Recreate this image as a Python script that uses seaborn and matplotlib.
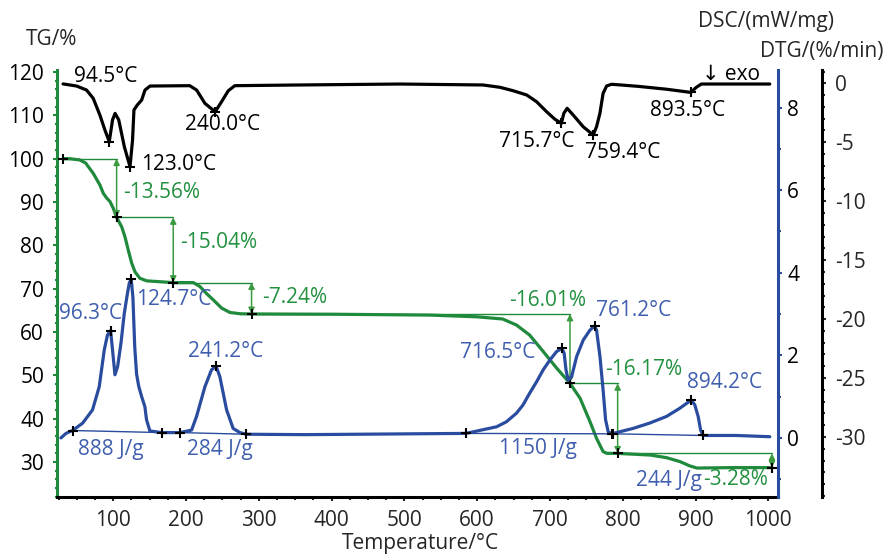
import matplotlib
matplotlib.use("Agg")
import matplotlib.pyplot as plt
import seaborn as sns
from matplotlib.ticker import MultipleLocator

# ---- TG (mass %) ----
tg_temp = [31, 40, 54, 62, 72.5, 81.7, 86.3, 91, 95.5, 100, 104.6, 111.5, 116, 120.6, 125.3,
           129.8, 136.5, 145.9, 164, 182.4, 210, 219, 228, 237.4, 249, 260.3, 275, 290,
           400, 535, 600, 635, 654, 672, 690.7, 709, 727.5, 741.4, 755, 764, 773, 778,
           793, 838, 860, 878.5, 892, 902, 950, 1005]
tg_mass = [100.0, 100.0, 99.7, 99.0, 96.6, 93.9, 92.0, 90.9, 90.1, 88.55, 86.44, 84.3, 82.0, 78.9, 75.9,
           73.9, 72.4, 71.8, 71.6, 71.40, 71.4, 70.5, 68.9, 67.4, 65.5, 64.5, 64.2, 64.16,
           64.1, 63.9, 63.5, 63.0, 61.6, 59.3, 55.5, 51.7, 48.15, 44.7, 39.3, 35.45, 32.4, 32.0,
           31.98, 31.6, 31.0, 30.1, 29.1, 28.6, 28.7, 28.7]

# mass-loss steps (start/end points) and labels
step_temp = [31, 104.6, 182.4, 290.0, 727.5, 793.0, 1005.0]
step_mass = [100.0, 86.44, 71.40, 64.16, 48.15, 31.98, 28.70]
step_labels = ["-13.56%", "-15.04%", "-7.24%", "-16.01%", "-16.17%", "-3.28%"]

# ---- DTG (%/min) ----
dtg_temp = [31, 49.6, 63.3, 72.4, 81.6, 88.5, 94.5, 99, 102.5, 107.5, 115.3, 123.0, 126.5, 128.4,
            133, 139, 143.6, 150.5, 205, 214.5, 225.9, 240.0, 248.8, 258, 267, 356, 494, 608,
            631.5, 649.5, 668, 681.6, 695.4, 706.8, 715.7, 719, 723.6, 731.9, 745.6, 759.4, 764,
            768.6, 773, 777.8, 784.6, 820, 860, 893.5, 901, 908, 1002]
dtg_val = [-0.05, -0.23, -0.57, -1.27, -2.69, -3.96, -4.95, -3.1, -2.55, -3.1, -5.4, -7.07, -4.8, -2.26,
           -1.84, -1.42, -0.57, -0.23, -0.2, -0.57, -1.7, -2.41, -1.56, -0.63, -0.2, -0.14, -0.06, -0.14,
           -0.34, -0.63, -0.99, -1.56, -2.41, -3.05, -3.39, -2.55, -2.12, -2.69, -3.68, -4.38, -3.68,
           -2.55, -0.85, -0.23, -0.08, -0.25, -0.5, -0.77, -0.34, -0.06, -0.06]
dtg_peak_temp = [94.5, 123.0, 240.0, 715.7, 759.4, 893.5]
dtg_peak_val = [-4.95, -7.07, -2.41, -3.39, -4.38, -0.77]
dtg_peak_labels = ["94.5°C", "123.0°C", "240.0°C", "715.7°C", "759.4°C", "893.5°C"]

# ---- DSC (mW/mg) ----
dsc_temp = [28, 35, 44, 58, 71.5, 80.7, 87.6, 92, 96.3, 99, 102.3, 106, 110.6, 115, 119, 122,
            124.7, 127, 129.5, 132, 135, 139, 143.4, 145.7, 150.3, 166.3, 191.5, 207.6, 214.4,
            225.9, 235, 241.2, 246.5, 255.7, 264.7, 274, 283, 363, 584.5, 626.6, 640, 654, 663,
            672, 681.6, 690.7, 700, 709, 716.5, 719.5, 722, 725, 729.7, 736.6, 745.7, 754.9,
            761.2, 764, 768.7, 773, 776.4, 780, 784.6, 814, 837, 860, 878.5, 894.2, 899, 903.6,
            907, 910.5, 956, 1002]
dsc_val = [0.0, 0.11, 0.18, 0.36, 0.68, 1.24, 2.13, 2.49, 2.60, 2.13, 1.53, 1.73, 2.3, 3.0, 3.45, 3.75,
           3.85, 3.4, 2.2, 1.55, 1.25, 1.0, 0.76, 0.44, 0.17, 0.13, 0.13, 0.19, 0.52,
           1.24, 1.65, 1.74, 1.48, 0.68, 0.23, 0.13, 0.09, 0.08, 0.11, 0.27, 0.39, 0.6, 0.8,
           1.08, 1.36, 1.65, 1.89, 2.09, 2.17, 2.05, 1.65, 1.40, 1.48, 1.97, 2.37, 2.61,
           2.71, 2.61, 1.97, 1.16, 0.44, 0.15, 0.10, 0.23, 0.36, 0.52, 0.72, 0.92, 0.8, 0.52,
           0.19, 0.06, 0.06, 0.03]
dsc_peak_temp = [96.3, 124.7, 241.2, 716.5, 761.2, 894.2]
dsc_peak_val = [2.60, 3.85, 1.74, 2.17, 2.71, 0.92]
dsc_peak_labels = ["96.3°C", "124.7°C", "241.2°C", "716.5°C", "761.2°C", "894.2°C"]
dsc_base_temp = [(44, 166.3), (191.5, 283), (584.5, 784.6), (787, 910.5)]
dsc_base_val = [(0.18, 0.13), (0.13, 0.09), (0.11, 0.10), (0.10, 0.06)]
dsc_area_labels = ["888 J/g", "284 J/g", "1150 J/g", "244 J/g"]

GREEN = "#1f8a3c"
GREEN_T = "#22913f"
BLUE = "#2a4c9f"
BLUE_T = "#3f5fae"
FS = 15

sns.set_theme(style="ticks")
plt.rcParams["font.family"] = ["Open Sans", "DejaVu Sans"]
plt.rcParams["axes.unicode_minus"] = False

fig = plt.figure(figsize=(8.88, 5.55), dpi=100)
ax = fig.add_axes([56.5 / 888, 58 / 555, (778 - 56.5) / 888, 427 / 555])
ax_dsc = ax.twinx()
ax_dtg = ax.twinx()
for a in (ax_dsc, ax_dtg):
    a.patch.set_visible(False)

# curves
sns.lineplot(x=tg_temp, y=tg_mass, ax=ax, color=GREEN, lw=2.3, estimator=None, sort=False)
sns.lineplot(x=dsc_temp, y=dsc_val, ax=ax_dsc, color=BLUE, lw=2.3, estimator=None, sort=False)
sns.lineplot(x=dtg_temp, y=dtg_val, ax=ax_dtg, color="black", lw=2.3, estimator=None, sort=False)

mk = dict(marker="+", ms=7.5, mew=1.5, color="black", ls="none", zorder=6)

# TG steps
for i, lab in enumerate(step_labels):
    t0, m0 = step_temp[i], step_mass[i]
    t1, m1 = step_temp[i + 1], step_mass[i + 1]
    ax.plot([t0, t1], [m0, m0], color=GREEN, lw=1.0)
    ax.annotate("", xy=(t1, m1), xytext=(t1, m0),
                arrowprops=dict(arrowstyle="<|-|>", color="#3b9a3f", lw=1.1,
                                mutation_scale=9, shrinkA=0, shrinkB=0))
ax.plot(step_temp, step_mass, **mk)

step_pos = [(113.3, 92.2, "left"), (191.6, 80.66, "left"), (304.3, 67.96, "left"),
            (696.6, 67.27, "center"), (775.6, 51.35, "left"), (999.6, 25.96, "right")]
for lab, (tx, ty, ha) in zip(step_labels, step_pos):
    ax.text(tx, ty, lab, color=GREEN_T, fontsize=FS, ha=ha, va="center")

# DSC baselines, peaks, areas
for (ta, tb), (va_, vb) in zip(dsc_base_temp, dsc_base_val):
    ax_dsc.plot([ta, tb], [va_, vb], color=BLUE, lw=1.0)
    ax_dsc.plot([ta, tb], [va_, vb], **mk)
ax_dsc.plot(dsc_peak_temp, dsc_peak_val, **mk)
dsc_off = [(-20.5, 17, "center"), (5, -21, "left"), (10, 15, "center"),
           (-27, -4, "right"), (1, 16, "left"), (33, 17.5, "center")]
for t, v, lab, (dx, dy, ha) in zip(dsc_peak_temp, dsc_peak_val, dsc_peak_labels, dsc_off):
    ax_dsc.annotate(lab, (t, v), xytext=(dx, dy), textcoords="offset pixels",
                    color=BLUE_T, fontsize=FS, ha=ha, va="center")
area_pos = [(96.8, -0.28), (246.6, -0.28), (683.5, -0.25), (863.5, -1.02)]
for lab, (tx, ty) in zip(dsc_area_labels, area_pos):
    ax_dsc.text(tx, ty, lab, color=BLUE_T, fontsize=FS, ha="center", va="center")

# DTG peaks
ax_dtg.plot(dtg_peak_temp, dtg_peak_val, **mk)
dtg_off = [(-3.5, 65, "center"), (11, 2, "left"), (7, -13, "center"),
           (-25, -18, "center"), (29, -17.5, "center"), (-3.5, -18, "center")]
for t, v, lab, (dx, dy, ha) in zip(dtg_peak_temp, dtg_peak_val, dtg_peak_labels, dtg_off):
    ax_dtg.annotate(lab, (t, v), xytext=(dx, dy), textcoords="offset pixels",
                    color="black", fontsize=FS, ha=ha, va="center")
ax_dtg.text(909, 0.75, "↓ exo", fontsize=FS, ha="left", va="center", color="black")

# limits / ticks
ax.set_xlim(22.0, 1013.3)
ax.set_ylim(21.92, 120.46)
ax_dsc.set_ylim(-1.43, 8.91)
ax_dtg.set_ylim(-35.09, 1.13)
ax.set_xticks(range(100, 1001, 100))
ax.set_yticks(range(30, 121, 10))
ax_dsc.set_yticks([0, 2, 4, 6, 8])
ax_dtg.set_yticks(range(-30, 1, 5))
ax.xaxis.set_minor_locator(MultipleLocator(25))
ax.yaxis.set_minor_locator(MultipleLocator(2))
ax_dsc.yaxis.set_minor_locator(MultipleLocator(1))
ax_dtg.yaxis.set_minor_locator(MultipleLocator(1))

for s in ("top", "right"):
    ax.spines[s].set_visible(False)
ax.spines["left"].set_color(GREEN)
ax.spines["left"].set_linewidth(2.2)
ax.spines["bottom"].set_color("black")
ax.spines["bottom"].set_linewidth(2.2)
for a, c in ((ax_dsc, BLUE), (ax_dtg, "black")):
    for s in ("top", "left", "bottom"):
        a.spines[s].set_visible(False)
    a.spines["right"].set_color(c)
    a.spines["right"].set_linewidth(2.2)
ax_dtg.spines["right"].set_position(("axes", (822 - 56.5) / (778 - 56.5)))

ax.tick_params(axis="y", which="major", colors=GREEN, labelcolor="black", length=3, width=1.5,
               labelsize=FS, pad=6)
ax.tick_params(axis="y", which="minor", colors=GREEN, length=1.8, width=1.5)
ax.tick_params(axis="x", which="major", length=3, width=1.5, labelsize=FS, pad=6)
ax.tick_params(axis="x", which="minor", length=1.8, width=1.5)
ax_dsc.tick_params(axis="y", which="major", colors=BLUE, labelcolor="black", length=3, width=1.5,
                   labelsize=FS, pad=3.5)
ax_dsc.tick_params(axis="y", which="minor", colors=BLUE, length=1.8, width=1.5)
ax_dtg.tick_params(axis="y", which="major", length=3, width=1.5, labelsize=FS, pad=6.5)
ax_dtg.tick_params(axis="y", which="minor", length=1.8, width=1.5)
ax.grid(False)
ax_dsc.grid(False)
ax_dtg.grid(False)

# axis titles
fig.text(51.5 / 888, 1 - 39.5 / 555, "TG/%", fontsize=FS, ha="center", va="center")
fig.text(766 / 888, 1 - 22 / 555, "DSC/(mW/mg)", fontsize=FS, ha="center", va="center")
fig.text(822 / 888, 1 - 51.5 / 555, "DTG/(%/min)", fontsize=FS, ha="center", va="center")
fig.text(420 / 888, 1.5 / 555, "Temperature/°C", fontsize=FS, ha="center", va="bottom")

fig.savefig("out.png", dpi=100)
